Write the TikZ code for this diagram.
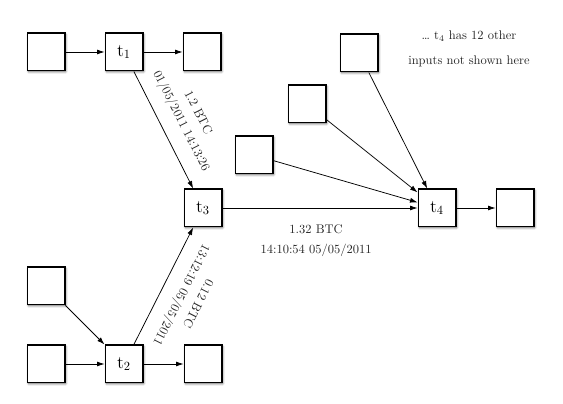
\documentclass[tikz,border=0pt]{standalone}
\usetikzlibrary{arrows.meta,shadows.blur}

\begin{document}
\begin{tikzpicture}[x=0.8pt, y=-0.8pt,
    txbox/.style={draw, line width=1.4pt, fill=white, minimum size=29.8pt, inner sep=0pt,
        font=\Large, blur shadow={shadow xshift=0.9pt, shadow yshift=-0.9pt,
        shadow blur steps=6, shadow opacity=60}},
    flow/.style={-{Latex[length=6pt, width=4pt]}, line width=0.6pt},
    backflow/.style={{Latex[length=6pt, width=4pt]}-, line width=0.6pt},
    info/.style={align=center, text=black!85}]
    \useasboundingbox (0,0) rectangle (563,404);

    % Upper chain.
    \node[txbox] (in1)  at (46 , 52) {};
    \node[txbox] (t1)   at (124, 52) {t$_1$};
    \node[txbox] (out1) at (202, 52) {};

    % Lower chain.
    \node[txbox] (in2a) at (46 , 286) {};
    \node[txbox] (in2b) at (46 , 364) {};
    \node[txbox] (t2)   at (124, 364) {t$_2$};
    \node[txbox] (out2) at (203, 364) {};

    % Middle and right.
    \node[txbox] (t3)   at (203, 208) {t$_3$};
    \node[txbox] (t4)   at (437, 208) {t$_4$};
    \node[txbox] (out4) at (515, 208) {};
    \node[txbox] (in4a) at (359, 53)  {};
    \node[txbox] (in4b) at (307, 104) {};
    \node[txbox] (in4c) at (254, 155) {};

    % Note.
    \node[info] (note) at (469, 49) {\ldots\ t$_4$ has 12 other\\[8pt]inputs not shown here};

    % Arrows.
    \draw[flow] (in1)  -- (t1);
    \draw[flow] (t1)   -- (out1);
    \draw[flow] (in2a) -- (t2);
    \draw[flow] (in2b) -- (t2);
    \draw[flow] (t2)   -- (out2);
    \draw[flow] (in4a) -- (t4);
    \draw[flow] (in4b) -- (t4);
    \draw[flow] (in4c) -- (t4);
    \draw[flow] (t4)   -- (out4);
    \draw[flow] (t1) -- node[sloped, above=7pt, info] {1.2 BTC\\[3pt]01/05/2011 14:13:26} (t3);
    \draw[backflow] (t3) -- node[sloped, allow upside down, above=7pt, info] {0.12 BTC\\[3pt]13:12:19 05/05/2011} (t2);
    \draw[flow] (t3) -- node[pos=0.48, below=10pt, info] {1.32 BTC\\[4pt]14:10:54 05/05/2011} (t4);

\end{tikzpicture}
\end{document}
